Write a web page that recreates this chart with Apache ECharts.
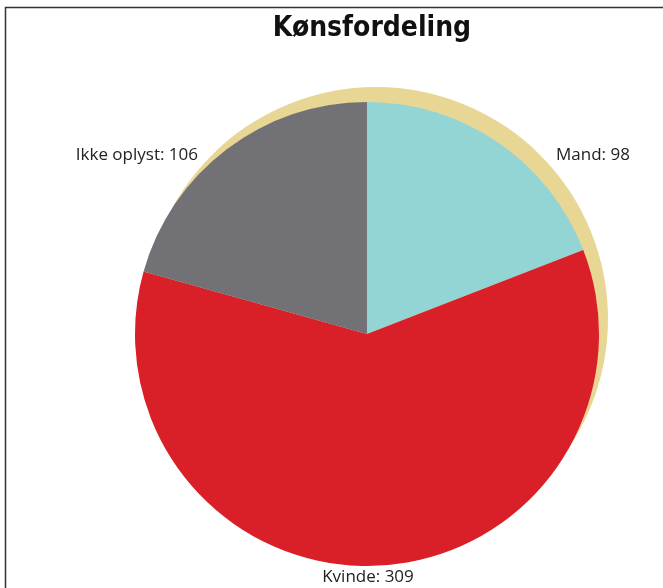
<!DOCTYPE html>
<html>
<head>
<meta charset="utf-8">
<script src="https://cdn.jsdelivr.net/npm/echarts@6/dist/echarts.min.js"></script>
<style>
  html, body { margin: 0; padding: 0; background: #fff; }
  #chart { width: 663px; height: 588px; }
</style>
</head>
<body>
<div id="chart"></div>
<script>
var categories = ['Mand', 'Kvinde', 'Ikke oplyst'];
var values = [98, 309, 106];
var colors = ['#93d4d4', '#d92028', '#727175'];

// where each label sits (layout only)
var labelPos = [
    { x: 556, y: 155, align: 'left' },
    { x: 368, y: 577, align: 'center' },
    { x: 198, y: 155, align: 'right' }
];

var total = values.reduce(function (a, b) { return a + b; }, 0);

var chartDom = document.getElementById('chart');
var myChart = echarts.init(chartDom);
var option = {
    backgroundColor: '#fff',
    animation: false,
    title: {
        text: 'Kønsfordeling',
        left: 367,
        textAlign: 'center',
        top: 10,
        textStyle: {
            fontFamily: 'DejaVu Sans Condensed, DejaVu Sans',
            fontWeight: 'bold',
            fontSize: 28,
            color: '#111'
        }
    },
    graphic: [{
        type: 'rect',
        shape: { x: 5.5, y: 7.5, width: 720, height: 640 },
        style: { fill: null, stroke: '#333', lineWidth: 1.5 },
        silent: true
    }],
    series: [
        {
            // beige shadow behind the pie
            type: 'pie',
            silent: true,
            center: [376, 319],
            radius: 232,
            label: { show: false },
            labelLine: { show: false },
            itemStyle: { color: '#e8d695' },
            data: [{ name: 'total', value: total }]
        },
        {
            type: 'pie',
            center: [367, 334],
            radius: 232,
            startAngle: 90,
            clockwise: true,
            itemStyle: { borderWidth: 0 },
            labelLine: { show: false },
            label: {
                show: true,
                position: 'outside',
                formatter: '{b}: {c}',
                fontFamily: 'Open Sans',
                fontSize: 17,
                color: '#222'
            },
            labelLayout: function (params) {
                var p = labelPos[params.dataIndex];
                return { x: p.x, y: p.y, align: p.align, verticalAlign: 'middle' };
            },
            data: categories.map(function (c, i) {
                return { name: c, value: values[i], itemStyle: { color: colors[i] } };
            })
        }
    ]
};
myChart.setOption(option);
</script>
</body>
</html>
